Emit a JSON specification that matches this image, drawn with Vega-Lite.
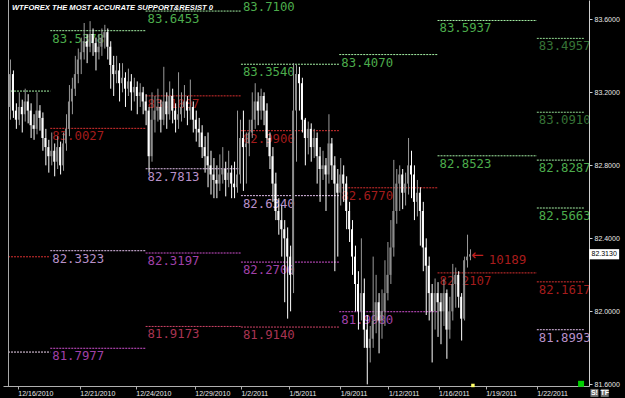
{
"$schema": "https://vega.github.io/schema/vega-lite/v6.json",
"width": 586, "height": 386,
"autosize": {"type": "none"},
"padding": {"left": 3, "top": 0, "right": 36, "bottom": 12},
"background": "black",
"config": {"view": {"stroke": null}, "axis": {"grid": false}},
"datasets": {
"candles": [
{"i":0,"o":83.12,"h":83.38,"l":83.05,"c":83.30},
{"i":1,"o":83.30,"h":83.32,"l":83.06,"c":83.10},
{"i":2,"o":83.10,"h":83.14,"l":83.00,"c":83.05},
{"i":3,"o":83.05,"h":83.20,"l":83.02,"c":83.12},
{"i":4,"o":83.12,"h":83.16,"l":82.98,"c":83.08},
{"i":5,"o":83.08,"h":83.22,"l":83.04,"c":83.15},
{"i":6,"o":83.15,"h":83.19,"l":83.03,"c":83.10},
{"i":7,"o":83.10,"h":83.14,"l":82.95,"c":83.02},
{"i":8,"o":83.02,"h":83.08,"l":82.94,"c":83.00},
{"i":9,"o":83.00,"h":83.20,"l":82.97,"c":83.10},
{"i":10,"o":83.10,"h":83.13,"l":82.99,"c":83.06},
{"i":11,"o":83.06,"h":83.09,"l":82.88,"c":82.95},
{"i":12,"o":82.95,"h":83.00,"l":82.80,"c":82.90},
{"i":13,"o":82.90,"h":82.94,"l":82.76,"c":82.85},
{"i":14,"o":82.85,"h":82.98,"l":82.80,"c":82.88},
{"i":15,"o":82.88,"h":82.92,"l":82.74,"c":82.82},
{"i":16,"o":82.82,"h":82.96,"l":82.78,"c":82.90},
{"i":17,"o":82.90,"h":82.93,"l":82.75,"c":82.80},
{"i":18,"o":82.80,"h":82.98,"l":82.77,"c":82.92},
{"i":19,"o":82.92,"h":83.08,"l":82.88,"c":83.00},
{"i":20,"o":83.00,"h":83.24,"l":82.96,"c":83.15},
{"i":21,"o":83.15,"h":83.28,"l":83.08,"c":83.22},
{"i":22,"o":83.22,"h":83.40,"l":83.18,"c":83.30},
{"i":23,"o":83.30,"h":83.44,"l":83.25,"c":83.38},
{"i":24,"o":83.38,"h":83.50,"l":83.30,"c":83.42},
{"i":25,"o":83.42,"h":83.58,"l":83.38,"c":83.48},
{"i":26,"o":83.48,"h":83.52,"l":83.36,"c":83.45},
{"i":27,"o":83.45,"h":83.59,"l":83.42,"c":83.52},
{"i":28,"o":83.52,"h":83.55,"l":83.40,"c":83.47},
{"i":29,"o":83.47,"h":83.50,"l":83.32,"c":83.42},
{"i":30,"o":83.42,"h":83.52,"l":83.38,"c":83.45},
{"i":31,"o":83.45,"h":83.55,"l":83.40,"c":83.50},
{"i":32,"o":83.50,"h":83.57,"l":83.44,"c":83.53},
{"i":33,"o":83.53,"h":83.55,"l":83.38,"c":83.45},
{"i":34,"o":83.45,"h":83.48,"l":83.22,"c":83.35},
{"i":35,"o":83.35,"h":83.40,"l":83.18,"c":83.30},
{"i":36,"o":83.30,"h":83.40,"l":83.25,"c":83.32},
{"i":37,"o":83.32,"h":83.36,"l":83.15,"c":83.25},
{"i":38,"o":83.25,"h":83.36,"l":83.20,"c":83.28},
{"i":39,"o":83.28,"h":83.31,"l":83.12,"c":83.22},
{"i":40,"o":83.22,"h":83.33,"l":83.18,"c":83.26},
{"i":41,"o":83.26,"h":83.30,"l":83.10,"c":83.20},
{"i":42,"o":83.20,"h":83.28,"l":83.15,"c":83.23},
{"i":43,"o":83.23,"h":83.26,"l":83.08,"c":83.18},
{"i":44,"o":83.18,"h":83.25,"l":83.12,"c":83.20},
{"i":45,"o":83.20,"h":83.23,"l":83.08,"c":83.15},
{"i":46,"o":83.15,"h":83.19,"l":83.02,"c":83.10},
{"i":47,"o":83.10,"h":83.12,"l":82.76,"c":82.85},
{"i":48,"o":82.85,"h":83.20,"l":82.82,"c":83.05},
{"i":49,"o":83.05,"h":83.18,"l":82.98,"c":83.10},
{"i":50,"o":83.10,"h":83.22,"l":83.04,"c":83.12},
{"i":51,"o":83.12,"h":83.16,"l":82.98,"c":83.05},
{"i":52,"o":83.05,"h":83.34,"l":83.02,"c":83.15},
{"i":53,"o":83.15,"h":83.20,"l":83.00,"c":83.08},
{"i":54,"o":83.08,"h":83.26,"l":83.05,"c":83.18},
{"i":55,"o":83.18,"h":83.22,"l":83.03,"c":83.10},
{"i":56,"o":83.10,"h":83.14,"l":82.98,"c":83.05},
{"i":57,"o":83.05,"h":83.31,"l":83.00,"c":83.08},
{"i":58,"o":83.08,"h":83.20,"l":83.04,"c":83.12},
{"i":59,"o":83.12,"h":83.24,"l":83.06,"c":83.15},
{"i":60,"o":83.15,"h":83.18,"l":83.02,"c":83.10},
{"i":61,"o":83.10,"h":83.27,"l":83.05,"c":83.12},
{"i":62,"o":83.12,"h":83.15,"l":82.98,"c":83.05},
{"i":63,"o":83.05,"h":83.10,"l":82.93,"c":83.00},
{"i":64,"o":83.00,"h":83.06,"l":82.90,"c":82.98},
{"i":65,"o":82.98,"h":83.02,"l":82.84,"c":82.90},
{"i":66,"o":82.90,"h":82.96,"l":82.76,"c":82.85},
{"i":67,"o":82.85,"h":82.98,"l":82.68,"c":82.80},
{"i":68,"o":82.80,"h":82.88,"l":82.64,"c":82.75},
{"i":69,"o":82.75,"h":82.84,"l":82.62,"c":82.72},
{"i":70,"o":82.72,"h":82.80,"l":82.62,"c":82.70},
{"i":71,"o":82.70,"h":82.86,"l":82.66,"c":82.75},
{"i":72,"o":82.75,"h":82.90,"l":82.70,"c":82.78},
{"i":73,"o":82.78,"h":82.82,"l":82.63,"c":82.72},
{"i":74,"o":82.72,"h":82.88,"l":82.68,"c":82.76},
{"i":75,"o":82.76,"h":82.80,"l":82.62,"c":82.70},
{"i":76,"o":82.70,"h":82.82,"l":82.62,"c":82.68},
{"i":77,"o":82.68,"h":83.10,"l":82.65,"c":82.75},
{"i":78,"o":82.75,"h":83.05,"l":82.70,"c":82.95},
{"i":79,"o":82.95,"h":83.10,"l":82.66,"c":82.90},
{"i":80,"o":82.90,"h":82.98,"l":82.70,"c":82.92},
{"i":81,"o":82.92,"h":83.05,"l":82.85,"c":82.98},
{"i":82,"o":82.98,"h":83.20,"l":82.95,"c":83.05},
{"i":83,"o":83.05,"h":83.25,"l":83.00,"c":83.15},
{"i":84,"o":83.15,"h":83.20,"l":83.02,"c":83.10},
{"i":85,"o":83.10,"h":83.22,"l":83.05,"c":83.18},
{"i":86,"o":83.18,"h":83.20,"l":83.02,"c":83.10},
{"i":87,"o":83.10,"h":83.14,"l":82.90,"c":82.95},
{"i":88,"o":82.95,"h":82.98,"l":82.78,"c":82.85},
{"i":89,"o":82.85,"h":82.90,"l":82.60,"c":82.70},
{"i":90,"o":82.70,"h":82.76,"l":82.50,"c":82.55},
{"i":91,"o":82.55,"h":82.62,"l":82.42,"c":82.50},
{"i":92,"o":82.50,"h":82.58,"l":82.30,"c":82.45},
{"i":93,"o":82.45,"h":82.50,"l":82.05,"c":82.40},
{"i":94,"o":82.40,"h":82.46,"l":81.96,"c":82.30},
{"i":95,"o":82.30,"h":82.36,"l":82.00,"c":82.20},
{"i":96,"o":82.20,"h":83.36,"l":82.10,"c":83.10},
{"i":97,"o":83.10,"h":83.35,"l":82.82,"c":83.30},
{"i":98,"o":83.30,"h":83.34,"l":83.10,"c":83.25},
{"i":99,"o":83.25,"h":83.28,"l":82.98,"c":83.05},
{"i":100,"o":83.05,"h":83.06,"l":82.80,"c":82.95},
{"i":101,"o":82.95,"h":83.04,"l":82.86,"c":83.00},
{"i":102,"o":83.00,"h":83.03,"l":82.82,"c":82.90},
{"i":103,"o":82.90,"h":83.00,"l":82.84,"c":82.95},
{"i":104,"o":82.95,"h":82.98,"l":82.70,"c":82.85},
{"i":105,"o":82.85,"h":82.90,"l":82.60,"c":82.78},
{"i":106,"o":82.78,"h":82.88,"l":82.72,"c":82.80},
{"i":107,"o":82.80,"h":82.84,"l":82.55,"c":82.75},
{"i":108,"o":82.75,"h":83.08,"l":82.70,"c":82.92},
{"i":109,"o":82.92,"h":82.95,"l":82.72,"c":82.80},
{"i":110,"o":82.80,"h":82.85,"l":82.22,"c":82.70},
{"i":111,"o":82.70,"h":82.78,"l":82.30,"c":82.65},
{"i":112,"o":82.65,"h":82.84,"l":82.58,"c":82.75},
{"i":113,"o":82.75,"h":82.80,"l":82.60,"c":82.70},
{"i":114,"o":82.70,"h":82.74,"l":82.45,"c":82.55},
{"i":115,"o":82.55,"h":82.60,"l":82.38,"c":82.45},
{"i":116,"o":82.45,"h":82.50,"l":82.20,"c":82.30},
{"i":117,"o":82.30,"h":82.36,"l":82.00,"c":82.15},
{"i":118,"o":82.15,"h":82.22,"l":81.90,"c":82.00},
{"i":119,"o":82.00,"h":82.40,"l":81.95,"c":82.10},
{"i":120,"o":82.10,"h":82.18,"l":81.80,"c":81.90},
{"i":121,"o":81.90,"h":81.98,"l":81.60,"c":81.80},
{"i":122,"o":81.80,"h":81.92,"l":81.72,"c":81.85},
{"i":123,"o":81.85,"h":82.30,"l":81.80,"c":81.95},
{"i":124,"o":81.95,"h":82.20,"l":81.88,"c":82.05},
{"i":125,"o":82.05,"h":82.10,"l":81.77,"c":81.95},
{"i":126,"o":81.95,"h":82.12,"l":81.85,"c":82.00},
{"i":127,"o":82.00,"h":82.28,"l":81.92,"c":82.10},
{"i":128,"o":82.10,"h":82.38,"l":82.06,"c":82.20},
{"i":129,"o":82.20,"h":82.50,"l":82.15,"c":82.35},
{"i":130,"o":82.35,"h":82.83,"l":82.30,"c":82.55},
{"i":131,"o":82.55,"h":82.78,"l":82.48,"c":82.70},
{"i":132,"o":82.70,"h":82.80,"l":82.55,"c":82.75},
{"i":133,"o":82.75,"h":82.78,"l":82.56,"c":82.65},
{"i":134,"o":82.65,"h":82.76,"l":82.58,"c":82.70},
{"i":135,"o":82.70,"h":82.95,"l":82.64,"c":82.80},
{"i":136,"o":82.80,"h":82.88,"l":82.62,"c":82.75},
{"i":137,"o":82.75,"h":82.80,"l":82.50,"c":82.60},
{"i":138,"o":82.60,"h":82.72,"l":82.52,"c":82.65},
{"i":139,"o":82.65,"h":82.68,"l":82.36,"c":82.55},
{"i":140,"o":82.55,"h":82.60,"l":82.22,"c":82.35},
{"i":141,"o":82.35,"h":82.40,"l":81.98,"c":82.25},
{"i":142,"o":82.25,"h":82.30,"l":81.95,"c":82.10},
{"i":143,"o":82.10,"h":82.15,"l":81.72,"c":82.00},
{"i":144,"o":82.00,"h":82.18,"l":81.90,"c":82.10},
{"i":145,"o":82.10,"h":82.16,"l":81.86,"c":82.05},
{"i":146,"o":82.05,"h":82.10,"l":81.82,"c":82.00},
{"i":147,"o":82.00,"h":82.18,"l":81.92,"c":82.10},
{"i":148,"o":82.10,"h":82.12,"l":81.74,"c":81.90},
{"i":149,"o":81.90,"h":82.08,"l":81.85,"c":82.00},
{"i":150,"o":82.00,"h":82.26,"l":81.95,"c":82.15},
{"i":151,"o":82.15,"h":82.24,"l":82.02,"c":82.20},
{"i":152,"o":82.20,"h":82.22,"l":82.02,"c":82.08},
{"i":153,"o":82.08,"h":82.10,"l":81.84,"c":81.96},
{"i":154,"o":81.96,"h":82.30,"l":81.95,"c":82.28},
{"i":155,"o":82.28,"h":82.42,"l":82.24,"c":82.30},
{"i":156,"o":82.30,"h":82.34,"l":82.28,"c":82.313}
],
"levels": [
{"a":-0.667,"b":13.667,"v":83.207,"k":"R"},
{"a":-0.667,"b":13.667,"v":82.299,"k":"P"},
{"a":-0.667,"b":13.667,"v":81.777,"k":"S0"},
{"a":13.667,"b":46,"v":83.5378,"k":"R"},
{"a":13.667,"b":46,"v":83.0027,"k":"P"},
{"a":13.667,"b":46,"v":82.3323,"k":"S1"},
{"a":13.667,"b":46,"v":81.7977,"k":"S2"},
{"a":46,"b":78.333,"v":83.6453,"k":"R"},
{"a":46,"b":78.333,"v":83.1807,"k":"P"},
{"a":46,"b":78.333,"v":82.7813,"k":"S1"},
{"a":46,"b":78.333,"v":82.3197,"k":"S2"},
{"a":46,"b":78.333,"v":81.9173,"k":"P2"},
{"a":78.333,"b":111.667,"v":83.71,"k":"R"},
{"a":78.333,"b":111.667,"v":83.354,"k":"R"},
{"a":78.333,"b":111.667,"v":82.99,"k":"P"},
{"a":78.333,"b":111.667,"v":82.634,"k":"S1"},
{"a":78.333,"b":111.667,"v":82.27,"k":"S2"},
{"a":78.333,"b":111.667,"v":81.914,"k":"P2"},
{"a":111.667,"b":145,"v":83.407,"k":"R"},
{"a":111.667,"b":145,"v":82.677,"k":"P"},
{"a":111.667,"b":145,"v":81.998,"k":"S2"},
{"a":145,"b":178.667,"v":83.5937,"k":"R"},
{"a":145,"b":178.667,"v":82.8523,"k":"R"},
{"a":145,"b":178.667,"v":82.2107,"k":"P"},
{"a":178.667,"b":194.667,"v":83.4957,"k":"Rd"},
{"a":178.667,"b":194.667,"v":83.091,"k":"Rd"},
{"a":178.667,"b":194.667,"v":82.8287,"k":"R"},
{"a":178.667,"b":194.667,"v":82.5663,"k":"R"},
{"a":178.667,"b":194.667,"v":82.1617,"k":"P"},
{"a":178.667,"b":194.667,"v":81.8993,"k":"S1"}
]
},
"resolve": {"scale": {"color": "independent"}},
"layer": [
{
"data": {"name": "levels"},
"mark": {"type": "rule", "strokeDash": [2, 1], "strokeWidth": 1},
"encoding": {
"x": {"field": "a", "type": "quantitative", "title": null,
"scale": {"domain": [-0.667, 194.667], "nice": false, "zero": false},
"axis": {"orient": "bottom", "values": [2.667, 23.667, 42.667, 62.667, 78.333, 94.667, 112, 128.333, 145.333, 161.333, 178.667],
"labelExpr": "['12/16/2010','12/21/2010','12/24/2010','12/29/2010','1/2/2011','1/5/2011','1/9/2011','1/12/2011','1/16/2011','1/19/2011','1/22/2011'][indexof([2.667, 23.667, 42.667, 62.667, 78.333, 94.667, 112, 128.333, 145.333, 161.333, 178.667], datum.value)]",
"labelAlign": "left", "labelBaseline": "top", "labelFont": "Liberation Sans", "labelFontSize": 7, "labelColor": "#e8e8e8",
"labelPadding": 0, "tickSize": 3, "tickColor": "#b0b0b0", "domainColor": "#b0b0b0", "labelOverlap": false, "labelFlush": false}},
"x2": {"field": "b"},
"y": {"field": "v", "type": "quantitative", "title": null,
"scale": {"domain": [81.591, 83.706], "nice": false, "zero": false},
"axis": {"orient": "right", "values": [81.6, 82.0, 82.4, 82.8, 83.2, 83.6], "format": ".4f",
"labelFont": "Liberation Sans", "labelFontSize": 7, "labelColor": "#e8e8e8", "labelPadding": 2, "tickSize": 3,
"tickColor": "#d0d0d0", "domainColor": "#d0d0d0", "labelFlush": false, "labelOverlap": false}},
"stroke": {"field": "k", "type": "nominal", "legend": null,
"scale": {"domain": ["R","Rd","P","P2","S0","S1","S2"], "range": ["#a4f0a4","#90d890","#d83030","#d04468","#f0d8f0","#e4c0ee","#d050d0"]}}
}
},
{
"data": {"name": "levels"},
"transform": [{"filter": "datum.a > 0"}],
"mark": {"type": "text", "align": "left", "baseline": "top", "dx": 2, "dy": 2, "font": "DejaVu Sans Mono", "fontSize": 12.3, "clip": true},
"encoding": {
"x": {"field": "a", "type": "quantitative", "title": null},
"y": {"field": "v", "type": "quantitative", "title": null},
"text": {"field": "v", "type": "quantitative", "format": ".4f"},
"fill": {"field": "k", "type": "nominal", "legend": null,
"scale": {"domain": ["R","Rd","P","P2","S0","S1","S2"], "range": ["#4cac4c","#367236","#a41c1c","#a83452","#e0c8e0","#b890c8","#a040a8"]}}
}
},
{
"data": {"name": "candles"},
"mark": {"type": "rule", "strokeWidth": 1, "xOffset": 0.5},
"encoding": {
"x": {"field": "i", "type": "quantitative", "title": null},
"y": {"field": "l", "type": "quantitative", "title": null},
"y2": {"field": "h"},
"color": {"condition": {"test": "datum.c >= datum.o", "value": "#9a9a9a"}, "value": "#ffffff"}
}
},
{
"data": {"name": "candles"},
"mark": {"type": "bar", "size": 2},
"encoding": {
"x": {"field": "i", "type": "quantitative", "title": null},
"y": {"field": "o", "type": "quantitative", "title": null},
"y2": {"field": "c"},
"color": {"condition": {"test": "datum.c >= datum.o", "value": "#8c8c8c"}, "value": "#ffffff"}
}
},
{
"data": {"values": [{}]},
"mark": {"type": "rule", "color": "#a8a8a8", "xOffset": 0.5},
"encoding": {"x": {"datum": -0.667, "type": "quantitative", "title": null}}
},
{
"data": {"values": [{"t": "WTFOREX THE MOST ACCURATE SUPPORT&RESIST 0"}]},
"mark": {"type": "text", "align": "left", "baseline": "middle", "font": "Liberation Sans", "fontSize": 7.6, "fontWeight": "bold", "fontStyle": "italic", "color": "#ffffff"},
"encoding": {"x": {"datum": 0.667, "type": "quantitative", "title": null}, "y": {"datum": 83.664, "type": "quantitative", "title": null}, "text": {"field": "t"}}
},
{
"data": {"values": [{"t": "10189"}]},
"mark": {"type": "text", "align": "left", "baseline": "middle", "font": "DejaVu Sans Mono", "fontSize": 12.5, "color": "#a81c1c"},
"encoding": {"x": {"datum": 162.33, "type": "quantitative", "title": null}, "y": {"datum": 82.281, "type": "quantitative", "title": null}, "text": {"field": "t"}}
},
{
"data": {"values": [{"t": "←"}]},
"mark": {"type": "text", "align": "center", "baseline": "middle", "font": "DejaVu Sans", "fontSize": 15, "color": "#c02020"},
"encoding": {"x": {"datum": 158.5, "type": "quantitative", "title": null}, "y": {"datum": 82.307, "type": "quantitative", "title": null}, "text": {"field": "t"}}
},
{
"data": {"values": [{"p": 82.313}]},
"mark": {"type": "point", "shape": "M-1,-0.34L1,-0.34L1,0.34L-1,0.34Z", "size": 900, "filled": true, "color": "#ffffff", "opacity": 1},
"encoding": {"x": {"datum": 201.5, "type": "quantitative", "title": null}, "y": {"field": "p", "type": "quantitative", "title": null}}
},
{
"data": {"values": [{"p": 82.313}]},
"mark": {"type": "text", "align": "center", "baseline": "middle", "font": "Liberation Sans", "fontSize": 7, "color": "#000000"},
"encoding": {"x": {"datum": 201.5, "type": "quantitative", "title": null}, "y": {"field": "p", "type": "quantitative", "title": null}, "text": {"field": "p", "type": "quantitative", "format": ".4f"}}
},
{
"data": {"values": [{}]},
"mark": {"type": "point", "shape": "square", "size": 36, "filled": true, "color": "#00d000", "opacity": 1},
"encoding": {"x": {"datum": 193.67, "type": "quantitative", "title": null}, "y": {"datum": 81.603, "type": "quantitative", "title": null}}
},
{
"data": {"values": [{}]},
"mark": {"type": "point", "shape": "square", "size": 12, "filled": true, "color": "#ffff66", "opacity": 1},
"encoding": {"x": {"datum": 157, "type": "quantitative", "title": null}, "y": {"datum": 81.594, "type": "quantitative", "title": null}}
},
{
"data": {"values": [{"t": "S!", "q": 198.2}, {"t": "TF", "q": 201.7}]},
"mark": {"type": "point", "shape": "square", "size": 64, "filled": true, "color": "#707070", "opacity": 1},
"encoding": {"x": {"field": "q", "type": "quantitative", "title": null}, "y": {"datum": 81.553, "type": "quantitative", "title": null}}
},
{
"data": {"values": [{"t": "S!", "q": 198.2}, {"t": "TF", "q": 201.7}]},
"mark": {"type": "text", "align": "center", "baseline": "middle", "font": "Liberation Sans", "fontSize": 7, "fontWeight": "bold", "color": "#ffffff"},
"encoding": {"x": {"field": "q", "type": "quantitative", "title": null}, "y": {"datum": 81.553, "type": "quantitative", "title": null}, "text": {"field": "t"}}
}
]
}
